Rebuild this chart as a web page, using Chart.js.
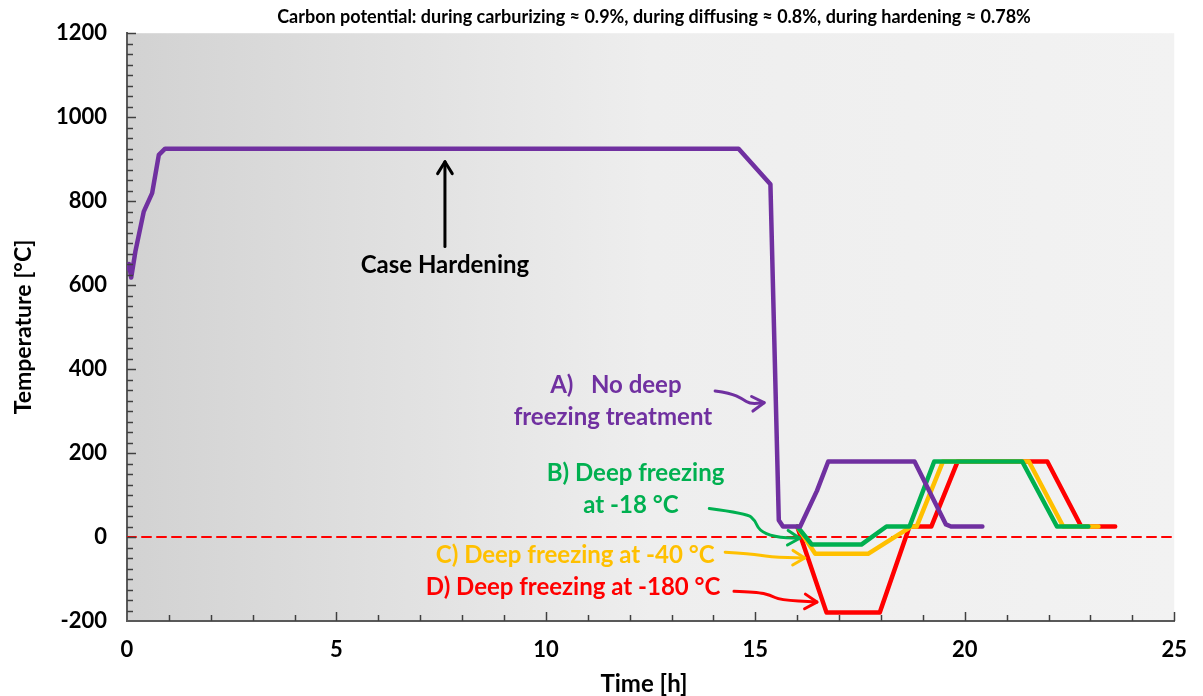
<!DOCTYPE html>
<html>
<head>
<meta charset="utf-8">
<script src="https://cdn.jsdelivr.net/npm/chart.js@4.4.1/dist/chart.umd.min.js"></script>
<style>
  html, body { margin: 0; padding: 0; background: #fff; }
  #wrap { width: 1203px; height: 696px; }
</style>
</head>
<body>
<div id="wrap"><canvas id="grafica"></canvas></div>
<script>
// tiempos [h] y temperaturas [°C]
var tiempoA = [0, 0.05, 0.1, 0.2, 0.4, 0.6, 0.76, 0.91, 14.6, 15.36, 15.56, 15.66, 16.07, 16.47, 16.74, 18.8, 19.55, 19.67, 20.42];
var tempA   = [640, 650, 618, 680, 775, 819, 910, 925, 925, 840, 40, 25, 25, 110, 180, 180, 30, 25, 25];

var tiempoB = [16.0, 16.35, 17.53, 18.13, 18.68, 19.27, 21.37, 22.2, 22.95];
var tempB   = [25, -18, -18, 25, 25, 180, 180, 25, 25];

var tiempoC = [16.0, 16.43, 17.69, 18.72, 18.85, 19.48, 21.53, 22.35, 23.19];
var tempC   = [25, -40, -40, 25, 25, 180, 180, 25, 25];

var tiempoD = [16.0, 16.7, 17.97, 18.68, 19.2, 19.83, 21.97, 22.78, 23.59];
var tempD   = [25, -180, -180, 25, 25, 180, 180, 25, 25];

var ticksX = [0, 5, 10, 15, 20, 25];
var ticksY = [-200, 0, 200, 400, 600, 800, 1000, 1200];

var titulo = 'Carbon potential: during carburizing \u2248 0.9%, during diffusing \u2248 0.8%, during hardening \u2248 0.78%';

var MORADO = '#7030A0', VERDE = '#00B050', AMARILLO = '#FFC000', ROJO = '#FF0000';
var FUENTE = 'Lato, "Open Sans", sans-serif';

function puntos(t, T) {
    var p = [];
    for (var i = 0; i < t.length; i++) { p.push({x: t[i], y: T[i]}); }
    return p;
}

// textos y flechas en unidades de datos
var etiquetas = [
    {txt: 'A)   No deep', x: 11.67, y: 362, color: MORADO},
    {txt: 'freezing treatment', x: 11.6, y: 286, color: MORADO},
    {txt: 'B) Deep freezing', x: 12.14, y: 153, color: VERDE},
    {txt: 'at -18 \u00B0C', x: 12.03, y: 75, color: VERDE},
    {txt: 'C) Deep freezing at -40 \u00B0C', x: 10.7, y: -43, color: AMARILLO},
    {txt: 'D) Deep freezing at -180 \u00B0C', x: 10.65, y: -120, color: ROJO},
    {txt: 'Case Hardening', x: 7.59, y: 647, color: '#000'}
];
var flechas = [
    {color: MORADO, pts: [[14.04, 348], [14.40, 343], [14.69, 329], [14.88, 317], [15.21, 320]]},
    {color: VERDE, pts: [[13.90, 68], [14.80, 56], [14.99, 40], [15.09, 16], [15.44, 0], [16.06, -3]]},
    {color: AMARILLO, pts: [[14.28, -36], [14.88, -39], [15.35, -48], [16.18, -50]]},
    {color: ROJO, pts: [[14.49, -129], [15.04, -131], [15.35, -138], [15.59, -150], [16.47, -155]]},
    {color: '#000', pts: [[7.59, 692], [7.59, 894]]}
];

var pluginDecoracion = {
    id: 'decoracion',
    beforeDraw: function (chart) {
        var a = chart.chartArea, ctx = chart.ctx;
        var g = ctx.createLinearGradient(a.left, 0, a.right, 0);
        g.addColorStop(0, '#d2d2d2');
        g.addColorStop(0.5, '#eeeeee');
        g.addColorStop(1, '#f2f2f2');
        ctx.save();
        ctx.fillStyle = g;
        ctx.fillRect(a.left, a.top, a.right - a.left, a.bottom - a.top);
        ctx.restore();
    },
    afterDraw: function (chart) {
        var a = chart.chartArea, ctx = chart.ctx;
        var sx = chart.scales.x, sy = chart.scales.y;
        ctx.save();
        // marcas interiores
        ctx.strokeStyle = '#404040';
        ctx.lineWidth = 1.5;
        for (var h = 1; h <= 25; h++) {
            var px = Math.round(sx.getPixelForValue(h)) + 0.5;
            var largo = (h % 5 === 0) ? 9 : 6;
            ctx.beginPath(); ctx.moveTo(px, a.bottom); ctx.lineTo(px, a.bottom - largo); ctx.stroke();
        }
        for (var v = -175; v <= 1200; v += 25) {
            var py = Math.round(sy.getPixelForValue(v)) + 0.5;
            var l2 = (v % 200 === 0) ? 9 : 6;
            ctx.beginPath(); ctx.moveTo(a.left, py); ctx.lineTo(a.left + l2, py); ctx.stroke();
        }
        // titulo
        ctx.fillStyle = '#000';
        ctx.textAlign = 'center';
        ctx.textBaseline = 'middle';
        ctx.font = 'bold 18px ' + FUENTE;
        ctx.fillText(titulo, 654, 17, 792);
        // titulos de ejes
        ctx.font = 'bold 24px ' + FUENTE;
        ctx.fillText('Time [h]', 644, 684);
        ctx.save();
        ctx.translate(24, 327);
        ctx.rotate(-Math.PI / 2);
        ctx.font = 'bold 23px ' + FUENTE;
        ctx.fillText('Temperature [\u00B0C]', 0, 0);
        ctx.restore();
        // textos
        ctx.font = 'bold 24px ' + FUENTE;
        etiquetas.forEach(function (e) {
            ctx.fillStyle = e.color;
            ctx.fillText(e.txt, sx.getPixelForValue(e.x), sy.getPixelForValue(e.y));
        });
        // flechas
        ctx.lineCap = 'round';
        ctx.lineJoin = 'round';
        flechas.forEach(function (f) {
            var p = f.pts.map(function (q) { return [sx.getPixelForValue(q[0]), sy.getPixelForValue(q[1])]; });
            ctx.strokeStyle = f.color;
            ctx.lineWidth = 3;
            ctx.beginPath();
            ctx.moveTo(p[0][0], p[0][1]);
            for (var i = 1; i < p.length - 1; i++) {
                var mx = (p[i][0] + p[i + 1][0]) / 2, my = (p[i][1] + p[i + 1][1]) / 2;
                ctx.quadraticCurveTo(p[i][0], p[i][1], mx, my);
            }
            var fin = p[p.length - 1], ant = p[p.length - 2];
            ctx.lineTo(fin[0], fin[1]);
            ctx.stroke();
            var ang = Math.atan2(fin[1] - ant[1], fin[0] - ant[0]);
            var L = 14;
            ctx.beginPath();
            ctx.moveTo(fin[0] - L * Math.cos(ang - 0.55), fin[1] - L * Math.sin(ang - 0.55));
            ctx.lineTo(fin[0], fin[1]);
            ctx.lineTo(fin[0] - L * Math.cos(ang + 0.55), fin[1] - L * Math.sin(ang + 0.55));
            ctx.stroke();
        });
        ctx.restore();
    }
};

var canvas = document.getElementById('grafica').getContext('2d');
window.grafica = new Chart(canvas, {
    type: 'line',
    data: {
        datasets: [
            {data: puntos(tiempoA, tempA), borderColor: MORADO, borderWidth: 4.5},
            {data: puntos(tiempoB, tempB), borderColor: VERDE, borderWidth: 4.5},
            {data: puntos(tiempoC, tempC), borderColor: AMARILLO, borderWidth: 4.5},
            {data: puntos(tiempoD, tempD), borderColor: ROJO, borderWidth: 4.5},
            {data: [{x: 0, y: 0}, {x: 25, y: 0}], borderColor: ROJO, borderWidth: 2, borderDash: [9, 6]}
        ]
    },
    options: {
        responsive: true,
        maintainAspectRatio: false,
        animation: false,
        events: [],
        elements: {point: {radius: 0}, line: {tension: 0, borderJoinStyle: 'round', borderCapStyle: 'round'}},
        layout: {padding: {top: 31, right: 23, left: 0, bottom: 0}},
        plugins: {legend: {display: false}, tooltip: {enabled: false}},
        scales: {
            x: {
                type: 'linear', min: 0, max: 25,
                afterFit: function (s) { s.height = 75; },
                afterBuildTicks: function (s) { s.ticks = ticksX.map(function (v) { return {value: v}; }); },
                grid: {drawOnChartArea: false, drawTicks: false},
                border: {display: true, color: '#595959', width: 2},
                ticks: {padding: 16, color: '#000', font: {family: FUENTE, size: 22, weight: 'bold'}, maxRotation: 0,
                        callback: function (v) { return String(v); }}
            },
            y: {
                type: 'linear', min: -200, max: 1200,
                afterFit: function (s) { s.width = 127; },
                afterBuildTicks: function (s) { s.ticks = ticksY.map(function (v) { return {value: v}; }); },
                grid: {drawOnChartArea: false, drawTicks: false},
                border: {display: true, color: '#595959', width: 2},
                ticks: {padding: 20, color: '#000', font: {family: FUENTE, size: 22, weight: 'bold'},
                        callback: function (v) { return String(v); }}
            }
        }
    },
    plugins: [pluginDecoracion]
});
</script>
</body>
</html>
